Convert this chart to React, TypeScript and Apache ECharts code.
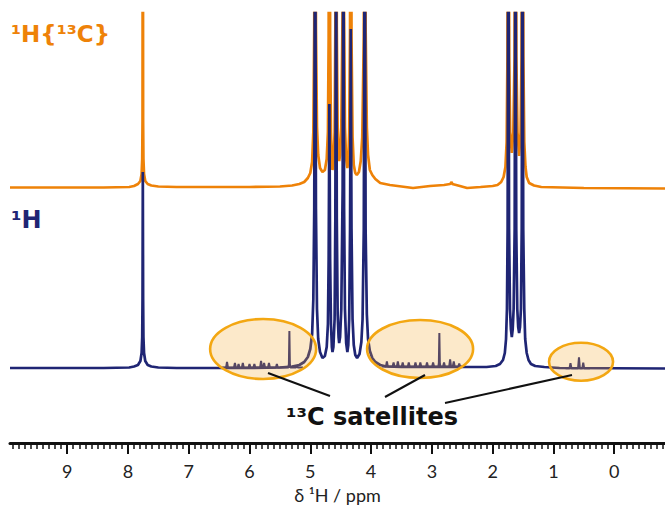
import React, { useEffect, useRef } from 'react';
import * as echarts from 'echarts';

// ---- axis ----
const ppmMin = -0.835;
const ppmMax = 9.94;
const majorTicks = [9, 8, 7, 6, 5, 4, 3, 2, 1, 0];
const tickLabels = ['9', '8', '7', '6', '5', '4', '3', '2', '1', '0'];
const axisTitle = 'δ ¹H / ppm';

// ---- 1H spectrum (blue): [ppm, intensity a.u.] ----
const protonSpectrum: number[][] = [
  [9.94, 1], [8.4, 1], [7.98, 1.5], [7.9, 2.5], [7.835, 4], [7.795, 8], [7.775, 16], [7.765, 32],
  [7.76, 70], [7.755, 197], [7.75, 70], [7.745, 32], [7.735, 16], [7.715, 8], [7.675, 4], [7.615, 2.5],
  [7.5, 1.5], [7.2, 1], [6.0, 1], [5.5, 1.5], [5.3, 2.5], [5.18, 4], [5.1, 7], [5.04, 12], [5.0, 20],
  [4.97, 35], [4.95, 70], [4.935, 160], [4.921, 520], [4.907, 160], [4.89, 60], [4.87, 30], [4.84, 17],
  [4.8, 11], [4.76, 13], [4.73, 22], [4.71, 45], [4.698, 110], [4.686, 265], [4.674, 110], [4.66, 45],
  [4.645, 22], [4.635, 17], [4.62, 22], [4.6, 50], [4.588, 150], [4.576, 480], [4.564, 150], [4.55, 55],
  [4.535, 32], [4.525, 26], [4.51, 32], [4.49, 60], [4.468, 180], [4.456, 500], [4.444, 160], [4.43, 60],
  [4.41, 26], [4.39, 17], [4.375, 24], [4.36, 50], [4.346, 140], [4.334, 340], [4.322, 140], [4.305, 50],
  [4.285, 24], [4.26, 14], [4.23, 11], [4.19, 15], [4.16, 27], [4.14, 50], [4.12, 140], [4.104, 520],
  [4.09, 140], [4.07, 55], [4.05, 30], [4.02, 18], [3.98, 11], [3.93, 7], [3.85, 4], [3.75, 2.5],
  [3.5, 2], [2.5, 2], [2.1, 2], [1.95, 3], [1.88, 5], [1.83, 9], [1.8, 16], [1.78, 30], [1.765, 60],
  [1.754, 140], [1.742, 520], [1.73, 140], [1.715, 60], [1.7, 40], [1.685, 32], [1.67, 40], [1.655, 60],
  [1.638, 140], [1.625, 520], [1.612, 140], [1.595, 60], [1.58, 42], [1.565, 36], [1.55, 42], [1.535, 60],
  [1.522, 140], [1.51, 520], [1.497, 140], [1.48, 60], [1.465, 30], [1.44, 16], [1.41, 9], [1.37, 5],
  [1.3, 3], [1.15, 2], [0.9, 1], [-0.835, 0.5],
];

// ---- 1H{13C} spectrum (orange): [ppm, intensity a.u.] ----
const decoupledSpectrum: number[][] = [
  [9.94, -0.5], [8.4, -0.5], [7.98, 0], [7.9, 1], [7.835, 3], [7.795, 6], [7.775, 13], [7.765, 28],
  [7.76, 65], [7.755, 420], [7.75, 65], [7.745, 28], [7.735, 13], [7.715, 6], [7.675, 3], [7.615, 1.5],
  [7.5, 0.5], [7.2, 0], [6.0, 0], [5.5, 0.5], [5.3, 1.5], [5.18, 3], [5.1, 5], [5.04, 9], [5.0, 14],
  [4.97, 25], [4.95, 55], [4.935, 160], [4.921, 600], [4.907, 160], [4.89, 60], [4.87, 32], [4.84, 19],
  [4.8, 15], [4.76, 17], [4.73, 28], [4.71, 55], [4.698, 150], [4.686, 600], [4.674, 150], [4.66, 55],
  [4.645, 24], [4.635, 17], [4.62, 24], [4.6, 55], [4.588, 160], [4.576, 600], [4.564, 160], [4.55, 60],
  [4.535, 32], [4.525, 26], [4.51, 32], [4.49, 60], [4.468, 180], [4.456, 600], [4.444, 170], [4.43, 60],
  [4.41, 28], [4.39, 19], [4.375, 26], [4.36, 55], [4.346, 160], [4.334, 600], [4.322, 150], [4.305, 50],
  [4.285, 22], [4.26, 14], [4.235, 12], [4.2, 15], [4.17, 26], [4.145, 50], [4.12, 150], [4.104, 600],
  [4.09, 160], [4.07, 60], [4.05, 32], [4.02, 17], [3.98, 12], [3.93, 8], [3.85, 4], [3.69, 2],
  [3.5, 0.5], [3.31, -1], [3.03, 1], [2.8, 2], [2.7, 3], [2.675, 5], [2.665, 3], [2.6, 2], [2.42, -1],
  [2.2, 0], [2.0, 1], [1.92, 2], [1.86, 5], [1.82, 10], [1.79, 20], [1.77, 45], [1.757, 130],
  [1.742, 600], [1.728, 130], [1.712, 55], [1.685, 34], [1.66, 55], [1.64, 130], [1.625, 600],
  [1.61, 130], [1.592, 55], [1.565, 31], [1.54, 55], [1.525, 130], [1.51, 600], [1.495, 130],
  [1.48, 45], [1.46, 20], [1.44, 10], [1.4, 4], [1.32, 1.5], [1.2, 0], [0.5, -1], [-0.835, -1.5],
];

// ---- 13C satellites (vertically expanded insets): [ppm, intensity a.u.] ----
const satellitesA: number[][] = [
  [6.45, 1.5], [6.385, 1.5], [6.37, 7], [6.355, 1.5], [6.255, 1.5], [6.24, 6], [6.225, 1.5],
  [6.195, 1.5], [6.18, 5], [6.165, 1.5], [6.125, 1.5], [6.11, 6], [6.095, 1.5], [6.015, 1.5],
  [6.0, 5], [5.985, 1.5], [5.935, 1.5], [5.92, 5], [5.905, 1.5], [5.825, 1.5], [5.81, 8],
  [5.795, 1.5], [5.775, 1.5], [5.76, 6], [5.745, 1.5], [5.695, 1.5], [5.68, 6], [5.665, 1.5],
  [5.565, 1.5], [5.55, 5], [5.535, 1.5], [5.36, 1.5], [5.352, 5], [5.344, 38], [5.336, 5],
  [5.328, 1.5], [5.235, 1.5], [5.22, 3.5], [5.205, 1.5], [5.12, 1.5],
];
const satellitesB: number[][] = [
  [3.82, 2.5], [3.755, 2.5], [3.74, 7.5], [3.725, 2.5], [3.645, 2.5], [3.63, 6.5], [3.615, 2.5],
  [3.575, 2.5], [3.56, 7.5], [3.545, 2.5], [3.495, 2.5], [3.48, 6.5], [3.465, 2.5], [3.395, 2.5],
  [3.38, 6.5], [3.365, 2.5], [3.285, 2.5], [3.27, 6.5], [3.255, 2.5], [3.205, 2.5], [3.19, 6.5],
  [3.175, 2.5], [3.095, 2.5], [3.08, 6.5], [3.065, 2.5], [2.995, 2.5], [2.98, 6.5], [2.965, 2.5],
  [2.893, 2.5], [2.885, 6], [2.877, 36], [2.869, 6], [2.861, 2.5], [2.815, 2.5], [2.8, 6.5],
  [2.785, 2.5], [2.715, 2.5], [2.7, 9.5], [2.685, 2.5], [2.655, 2.5], [2.64, 7.5], [2.625, 2.5],
  [2.565, 2.5], [2.55, 5.5], [2.535, 2.5], [2.47, 2.5],
];
const satellitesC: number[][] = [
  [0.8, 0.7], [0.735, 0.7], [0.72, 5.7], [0.705, 0.7], [0.595, 0.7], [0.58, 11.7], [0.565, 0.7],
  [0.525, 0.7], [0.51, 6.3], [0.495, 0.7], [0.4, 0.7],
];

// inset ellipse centres [ppm, intensity]
const insetCentres: number[][] = [
  [5.776, 20],
  [3.194, 20],
  [0.546, 7.3],
];

const NAVY = '#1f2574';
const ORANGE = '#ee8208';

const minorTicks: number[] = [];
for (let i = -8; i <= 99; i++) {
  if (i % 10 !== 0) minorTicks.push(i / 10);
}

export default function App() {
  const ref = useRef<HTMLDivElement>(null);

  useEffect(() => {
    const chart = echarts.init(ref.current!, null, { renderer: 'svg' });
    const option: any = {
      animation: false,
      grid: { left: 10, right: 0, top: 13, bottom: 66, containLabel: false },
      xAxis: [
        {
          type: 'value',
          inverse: true,
          min: ppmMin,
          max: ppmMax,
          position: 'bottom',
          axisLine: { show: true, onZero: false, lineStyle: { color: '#111', width: 3 } },
          axisTick: {
            show: true,
            customValues: majorTicks,
            length: 11,
            lineStyle: { color: '#111', width: 2 },
          },
          axisLabel: {
            show: true,
            customValues: majorTicks,
            formatter: (v: number) => tickLabels[majorTicks.indexOf(Math.round(v))] ?? '',
            margin: 19,
            fontSize: 18,
            color: '#222',
            fontFamily: 'Lato',
          },
          splitLine: { show: false },
          name: axisTitle,
          nameLocation: 'middle',
          nameGap: 43,
          nameTextStyle: { fontSize: 18, color: '#222', fontFamily: 'Lato' },
        },
        {
          type: 'value',
          inverse: true,
          min: ppmMin,
          max: ppmMax,
          position: 'bottom',
          offset: 0,
          axisLine: { show: false, onZero: false },
          axisTick: {
            show: true,
            customValues: minorTicks,
            length: 6,
            lineStyle: { color: '#111', width: 1.5 },
          },
          axisLabel: { show: false },
          splitLine: { show: false },
        },
      ],
      yAxis: [
        { type: 'value', min: -74, max: 356, show: false, splitLine: { show: false } },
        { type: 'value', min: -256, max: 174, show: false, splitLine: { show: false } },
      ],
      series: [
        {
          name: '¹H{¹³C}',
          type: 'line',
          xAxisIndex: 0,
          yAxisIndex: 1,
          data: decoupledSpectrum,
          showSymbol: false,
          symbol: 'none',
          lineStyle: { color: ORANGE, width: 2.7 },
          z: 2,
          silent: true,
        },
        {
          name: '¹H',
          type: 'line',
          xAxisIndex: 0,
          yAxisIndex: 0,
          data: protonSpectrum,
          showSymbol: false,
          symbol: 'none',
          lineStyle: { color: NAVY, width: 2.7 },
          z: 3,
          silent: true,
        },
        ...[satellitesA, satellitesB, satellitesC].map((d, i) => ({
          name: 'satellites ' + (i + 1),
          type: 'line',
          xAxisIndex: 0,
          yAxisIndex: 0,
          data: d,
          showSymbol: false,
          symbol: 'none',
          lineStyle: { color: NAVY, width: 2 },
          z: 4,
          silent: true,
        })),
      ],
    };
    chart.setOption(option);

    const toPx = (p: number[]) =>
      chart.convertToPixel({ xAxisIndex: 0, yAxisIndex: 0 }, p) as number[];
    const radii = [
      [53, 30],
      [53, 29],
      [32, 19],
    ];
    const ellipses = insetCentres.map((c, i) => {
      const [cx, cy] = toPx(c);
      return {
        type: 'ellipse',
        shape: { cx, cy, rx: radii[i][0], ry: radii[i][1] },
        style: { fill: 'rgba(245,170,50,0.26)', stroke: '#f3a712', lineWidth: 2.6 },
        z: 10,
        silent: true,
      };
    });
    const callouts = [
      [268, 373, 330, 396],
      [425, 375, 385, 397],
      [572, 375, 445, 403],
    ].map((l) => ({
      type: 'line',
      shape: { x1: l[0], y1: l[1], x2: l[2], y2: l[3] },
      style: { stroke: '#111', lineWidth: 2 },
      z: 11,
      silent: true,
    }));

    chart.setOption({
      graphic: [
        ...ellipses,
        ...callouts,
        {
          type: 'text',
          x: 372,
          y: 417,
          z: 12,
          style: {
            text: '¹³C satellites',
            fill: '#111',
            fontSize: 24,
            fontWeight: 'bold',
            fontFamily: 'DejaVu Sans',
            align: 'center',
            verticalAlign: 'middle',
          },
        },
        {
          type: 'text',
          x: 11,
          y: 34,
          z: 12,
          style: {
            text: '¹H{¹³C}',
            fill: ORANGE,
            fontSize: 23,
            fontWeight: 'bold',
            fontFamily: 'DejaVu Sans',
            align: 'left',
            verticalAlign: 'middle',
          },
        },
        {
          type: 'text',
          x: 11,
          y: 220,
          z: 12,
          style: {
            text: '¹H',
            fill: NAVY,
            fontSize: 24,
            fontWeight: 'bold',
            fontFamily: 'DejaVu Sans',
            align: 'left',
            verticalAlign: 'middle',
          },
        },
      ],
    });

    return () => chart.dispose();
  }, []);

  return (
    <div
      ref={ref}
      style={{ position: 'absolute', left: 0, top: 0, width: 665, height: 509, background: '#fff' }}
    />
  );
}
